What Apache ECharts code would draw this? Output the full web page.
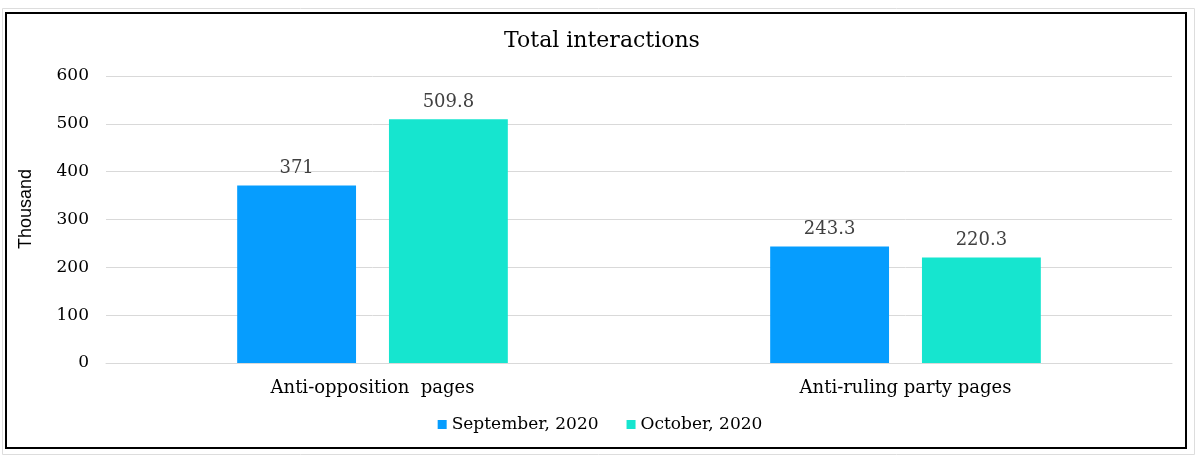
<!DOCTYPE html>
<html><head><meta charset="utf-8">
<script src="https://cdn.jsdelivr.net/npm/echarts@6/dist/echarts.min.js"></script>
<style>html,body{margin:0;padding:0;background:#fff}#c{width:1200px;height:457px}</style>
</head><body><div id="c"></div>
<script>
const categories = ['Anti-opposition  pages', 'Anti-ruling party pages'];
const september = [371, 243.3];
const october = [509.8, 220.3];
const seriesNames = ['September, 2020', 'October, 2020'];
const yTicks = { min: 0, max: 600, interval: 100 };
const yAxisTitle = 'Thousand';

const serif = 'DejaVu Serif';
const chart = echarts.init(document.getElementById('c'));
chart.setOption({
  animation: false,
  title: { text: 'Total interactions', left: 597, top: 25, textAlign: 'center',
    textStyle: { fontFamily: serif, fontSize: 22, fontWeight: 'normal', color: '#000' } },
  legend: { bottom: 19, left: 'center', itemWidth: 9, itemHeight: 9, itemGap: 28,
    icon: 'rect', textStyle: { fontFamily: serif, fontSize: 17, color: '#000' },
    data: seriesNames },
  grid: { left: 106, right: 28, top: 76, bottom: 94 },
  graphic: [
    { type: 'rect', shape: { x: 2.5, y: 8.5, width: 1192, height: 446 }, style: { fill: 'none', stroke: '#ddd', lineWidth: 1 } },
    { type: 'rect', shape: { x: 6, y: 13, width: 1180, height: 435 }, style: { fill: 'none', stroke: '#000', lineWidth: 2 } },
    { type: 'text', x: 26, y: 209, rotation: Math.PI / 2,
      style: { text: yAxisTitle, fontFamily: 'Liberation Sans', fontSize: 18, fill: '#000', align: 'center', verticalAlign: 'middle' } }
  ],
  xAxis: { type: 'category', data: categories,
    axisLine: { lineStyle: { color: '#d9d9d9' } }, axisTick: { show: false },
    axisLabel: { fontFamily: serif, fontSize: 18, color: '#000', margin: 16 } },
  yAxis: { type: 'value', min: yTicks.min, max: yTicks.max, interval: yTicks.interval,
    axisLine: { show: false }, axisTick: { show: false },
    axisLabel: { fontFamily: serif, fontSize: 17, color: '#000', margin: 17 },
    splitLine: { lineStyle: { color: '#d9d9d9' } } },
  series: [
    { name: seriesNames[0], type: 'bar', data: september, barWidth: '22.3%', barGap: '27.7%',
      itemStyle: { color: '#069DFE' },
      label: { show: true, position: 'top', distance: 8, fontFamily: serif, fontSize: 18, color: '#404040' } },
    { name: seriesNames[1], type: 'bar', data: october, barWidth: '22.3%',
      itemStyle: { color: '#16E5CF' },
      label: { show: true, position: 'top', distance: 8, fontFamily: serif, fontSize: 18, color: '#404040' } }
  ]
});
</script></body></html>
